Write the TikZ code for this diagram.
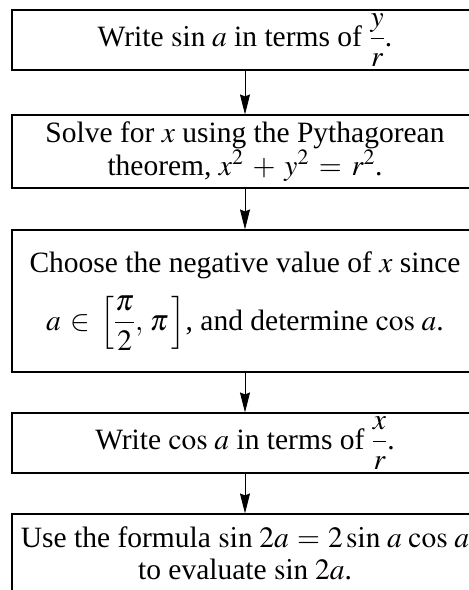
\documentclass[tikz,border=0pt]{standalone}
\usepackage{amsmath}
\usepackage{mathptmx}
\usepackage{fontspec}
\setmainfont{Liberation Serif}
\usetikzlibrary{arrows.meta}
\newcommand{\bigfr}[2]{\dfrac{#1}{#2}}
\newcommand{\flowfont}{\fontsize{29.5}{32}\selectfont}
\thickmuskip=6mu plus 2mu\relax
\medmuskip=5.5mu plus 2mu\relax
\begin{document}
\begin{tikzpicture}[x=1pt,y=-1pt,
  flowbox/.style={draw, line width=1.1pt, minimum width=466pt, align=center,
    font=\flowfont, inner sep=0pt},
  flowarrow/.style={line width=0.9pt, -{Stealth[length=20pt,width=10pt,inset=2pt]}}]
\useasboundingbox (0,0) rectangle (469,590);
\clip (0,0) rectangle (469,590);
\node[flowbox, minimum height=60pt] (b1) at (245,40)
  {Write $\sin\, a$ in terms of $\bigfr{y}{r}$.};
\node[flowbox, minimum height=73pt] (b2) at (245,151.5)
  {Solve for $x$ using the Pythagorean\\[1pt]theorem, $x^2 + y^2 = r^2$.};
\node[flowbox, minimum height=142pt] (b3) at (245,301)
  {Choose the negative value of $x$ since\\[16pt]$a \mathrel{\in} \left[\dfrac{\pi}{2},\, \pi\,\right]$, and determine $\cos\, a$.};
\node[flowbox, minimum height=60pt] (b4) at (245,443)
  {Write $\cos\, a$ in terms of $\bigfr{x}{r}$.};
\node[flowbox, minimum height=78pt] (b5) at (245,553)
  {\thickmuskip=5mu\relax Use the formula $\sin\, 2a = 2\sin\, a\,\cos\, a$\\to evaluate $\sin\, 2a$.};
\draw[flowarrow] (b1.south) -- (b2.north);
\draw[flowarrow] (b2.south) -- (b3.north);
\draw[flowarrow] (b3.south) -- (b4.north);
\draw[flowarrow] (b4.south) -- (b5.north);
\end{tikzpicture}
\end{document}
